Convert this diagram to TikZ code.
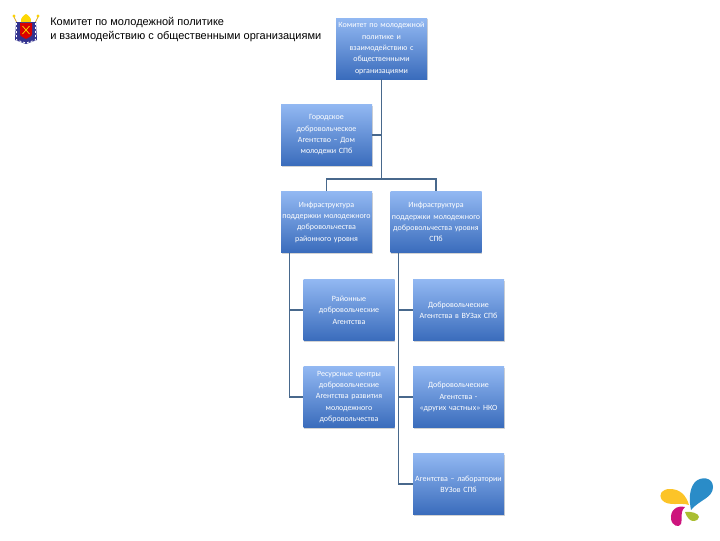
\documentclass[tikz,border=0pt]{standalone}
\usepackage{fontspec}
\setmainfont{Liberation Sans}
\newfontfamily\boxfont{Carlito}
\usetikzlibrary{shadows}
\definecolor{boxtop}{RGB}{146,184,242}
\definecolor{boxbottom}{RGB}{58,108,188}
\definecolor{linkcol}{RGB}{72,104,140}
\definecolor{logoblue}{RGB}{42,140,200}
\definecolor{logoyellow}{RGB}{252,196,40}
\definecolor{logopink}{RGB}{205,20,125}
\definecolor{logogreen}{RGB}{170,190,50}
\tikzset{
  unit/.style={rectangle, top color=boxtop, bottom color=boxbottom, text=white,
    text width=68.25pt, minimum height=45.75pt, inner sep=0pt, align=center,
    font=\boxfont\fontsize{6}{8.5}\selectfont,
    drop shadow={shadow xshift=0.5pt, shadow yshift=-1pt, opacity=0.35}},
  link/.style={draw=linkcol, line width=0.8pt},
  head/.style={inner sep=0pt, anchor=west, font=\fontsize{8.25}{10.5}\selectfont, align=left}
}
\begin{document}
\begin{tikzpicture}[x=0.75pt, y=-0.75pt, node distance=65.25pt]
  \useasboundingbox (0,0) rectangle (720,540);
  % emblem
  \draw[draw=brown!70!yellow, line width=0.6pt] (14,17) -- (19,27) (38,17) -- (33,27);
  \fill[yellow!70!orange] (14,16) circle (1.6) (38,16) circle (1.6);
  \fill[blue!45!black!80] (16,22) -- (36,22) -- (37,40) -- (26,44) -- (15,40) -- cycle;
  \draw[white, line width=0.6pt, dash pattern=on 1.5pt off 1.5pt] (16.5,23) -- (16.5,40) -- (26,43) -- (35.5,40) -- (35.5,23);
  \fill[red!85!black] (20,23) -- (32,23) -- (32,34) .. controls (32,37) and (28,37) .. (26,39) .. controls (24,37) and (20,37) .. (20,34) -- cycle;
  \fill[yellow!75!orange] (21,22) .. controls (20,18) and (24,15) .. (26,14) .. controls (28,15) and (32,18) .. (31,22) -- cycle;
  \draw[yellow!80!orange, line width=0.5pt] (22.5,26) -- (29.5,34) (29.5,26) -- (22.5,34);
  % heading
  \node[head] (title) at (50,30) {Комитет по молодежной политике\\и взаимодействию с общественными организациями};
  % units
  \node[unit] (committee) at (381.5,48.5) {Комитет по молодежной\\политике и\\взаимодействию с\\общественными\\организациями};
  \node[unit] (city) at (326.5,135) {Городское\\добровольческое\\Агентство – Дом\\молодежи СПб};
  \node[unit, below of = city] (infraL) {Инфраструктура\\поддержки молодежного\\добровольчества\\районного уровня};
  \node[unit] (infraR) at (436,222) {Инфраструктура\\поддержки молодежного\\добровольчества уровня\\СПб};
  \node[unit] (distL) at (349,310) {Районные\\добровольческие\\Агентства};
  \node[unit, below of = distL] (centreL) {Ресурсные центры\\добровольческие\\Агентства развития\\молодежного\\добровольчества};
  \node[unit] (agencyA) at (458.5,310) {Добровольческие\\Агентства в ВУЗах СПб};
  \node[unit, below of = agencyA] (agencyB) {Добровольческие\\Агентства -\\«других частных» НКО};
  \node[unit, below of = agencyB] (agencyC) {Агентства – лаборатории\\ВУЗов СПб\\[8.5pt]};
  % connectors
  \coordinate (fork) at (committee.south |- 0,179);
  \coordinate[xshift=6.75pt] (trunkL) at (infraL.south west);
  \coordinate[xshift=6.5pt] (trunkR) at (infraR.south west);
  \draw[link] (committee) -- (fork);
  \draw[link] (city.east) -- (city.east -| committee.south);
  \draw[link] (infraL.north) |- (fork) -| (infraR.north);
  \foreach \i in {distL, centreL} {
    \draw[link] (trunkL) |- (\i.west);
  }
  \foreach \i in {agencyA, agencyB, agencyC} {
    \draw[link] (trunkR) |- (\i.west);
  }
  % logo
  \fill[logoyellow] (689,505) .. controls (681,502) and (668,507) .. (662,500) .. controls (658,494) and (662,489) .. (670,489) .. controls (680,489) and (686,495) .. (689,505) -- cycle;
  \fill[logoblue] (691,510) .. controls (689,500) and (689,489) .. (695,482) .. controls (701,476) and (713,477) .. (713,487) .. controls (713,498) and (699,500) .. (691,510) -- cycle;
  \fill[logopink] (685,507) .. controls (677,505) and (670,510) .. (671,519) .. controls (672,526) and (679,528) .. (681,524) .. controls (683,519) and (679,513) .. (685,507) -- cycle;
  \fill[logogreen] (685,512) .. controls (690,511) and (699,513) .. (699,517) .. controls (698,522) and (691,522) .. (689,519) .. controls (687,517) and (686,515) .. (685,512) -- cycle;
\end{tikzpicture}
\end{document}
